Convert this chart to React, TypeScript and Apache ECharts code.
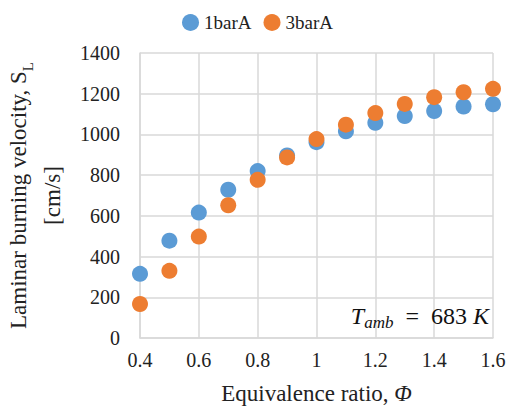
import React, { useEffect, useRef } from "react";
import * as echarts from "echarts";

const phi = [0.4, 0.5, 0.6, 0.7, 0.8, 0.9, 1.0, 1.1, 1.2, 1.3, 1.4, 1.5, 1.6];
const bar1 = [315, 478, 616, 728, 820, 897, 962, 1015, 1057, 1090, 1115, 1137, 1148];
const bar3 = [167, 330, 498, 652, 777, 887, 977, 1048, 1105, 1150, 1183, 1207, 1224];
const seriesNames = ["1barA", "3barA"];
const colors = ["#5b9bd5", "#ed7d31"];

const FONT = "Liberation Serif";
const LABEL_FONT = "serif";

export default function App() {
  const ref = useRef<HTMLDivElement>(null);
  useEffect(() => {
    if (!ref.current) return;
    const chart = echarts.init(ref.current, null, { renderer: "svg" });
    const gridColor = "#d9d9d9";
    chart.setOption({
      animation: false,
      backgroundColor: "#ffffff",
      title: {
        text: "{i|T}{sub|amb}{n|  =  683 }{i|K}",
        right: 26,
        top: 301,
        padding: 0,
        textStyle: {
          fontFamily: FONT,
          fontSize: 24,
          fontWeight: "normal",
          color: "#111",
          lineHeight: 30,
          rich: {
            i: { fontFamily: FONT, fontSize: 24, fontWeight: "normal", fontStyle: "italic", color: "#111" },
            n: { fontFamily: FONT, fontSize: 24, fontWeight: "normal", color: "#111" },
            sub: { fontFamily: FONT, fontSize: 17, fontWeight: "normal", fontStyle: "italic", lineHeight: 17, verticalAlign: "bottom", color: "#111" },
          },
        },
      },
      legend: {
        top: 8,
        left: "center",
        itemWidth: 17,
        itemHeight: 17,
        itemGap: 12,
        icon: "circle",
        textStyle: { fontFamily: FONT, fontSize: 19, color: "#222" },
        data: seriesNames,
      },
      grid: { left: 140, right: 22, top: 53, bottom: 73, containLabel: false, outerBoundsMode: "none" },
      xAxis: {
        type: "value",
        min: 0.4,
        max: 1.6,
        interval: 0.2,
        name: "Equivalence ratio, {i|Φ}",
        nameLocation: "middle",
        nameGap: 44,
        nameTextStyle: {
          fontFamily: FONT,
          fontSize: 23,
          color: "#222",
          rich: { i: { fontFamily: FONT, fontSize: 23, fontStyle: "italic", color: "#222" } },
        },
        axisLine: { show: true, lineStyle: { color: gridColor, width: 1.5 } },
        axisTick: { show: false },
        splitLine: { show: true, lineStyle: { color: gridColor, width: 1.5 } },
        axisLabel: {
          show: true,
          fontFamily: LABEL_FONT,
          fontSize: 20,
          color: "#222",
          margin: 12,
          formatter: (v: number) => String(Math.round(v * 10) / 10),
        },
      },
      yAxis: {
        type: "value",
        min: 0,
        max: 1400,
        interval: 200,
        name: "Laminar burning velocity, S{sub|L}\n[cm/s]",
        nameLocation: "middle",
        nameRotate: 90,
        nameGap: 58,
        nameTextStyle: {
          fontFamily: FONT,
          fontSize: 23,
          color: "#222",
          lineHeight: 34,
          rich: {
            sub: { fontFamily: FONT, fontSize: 15, lineHeight: 22, verticalAlign: "bottom", color: "#222" },
          },
        },
        axisLine: { show: true, lineStyle: { color: gridColor, width: 1.5 } },
        axisTick: { show: false },
        splitLine: { show: true, lineStyle: { color: gridColor, width: 1.5 } },
        axisLabel: {
          show: true,
          fontFamily: LABEL_FONT,
          fontSize: 20,
          color: "#222",
          margin: 20,
          formatter: (v: number) => String(v),
        },
      },
      series: [
        {
          name: seriesNames[0],
          type: "scatter",
          symbol: "circle",
          symbolSize: 16,
          itemStyle: { color: colors[0], opacity: 1 },
          data: phi.map((x, i) => [x, bar1[i]]),
        },
        {
          name: seriesNames[1],
          type: "scatter",
          symbol: "circle",
          symbolSize: 16,
          itemStyle: { color: colors[1], opacity: 1 },
          data: phi.map((x, i) => [x, bar3[i]]),
        },
      ],
    });
    return () => chart.dispose();
  }, []);
  return <div ref={ref} style={{ width: 515, height: 411, position: "absolute", left: 0, top: 0 }} />;
}
